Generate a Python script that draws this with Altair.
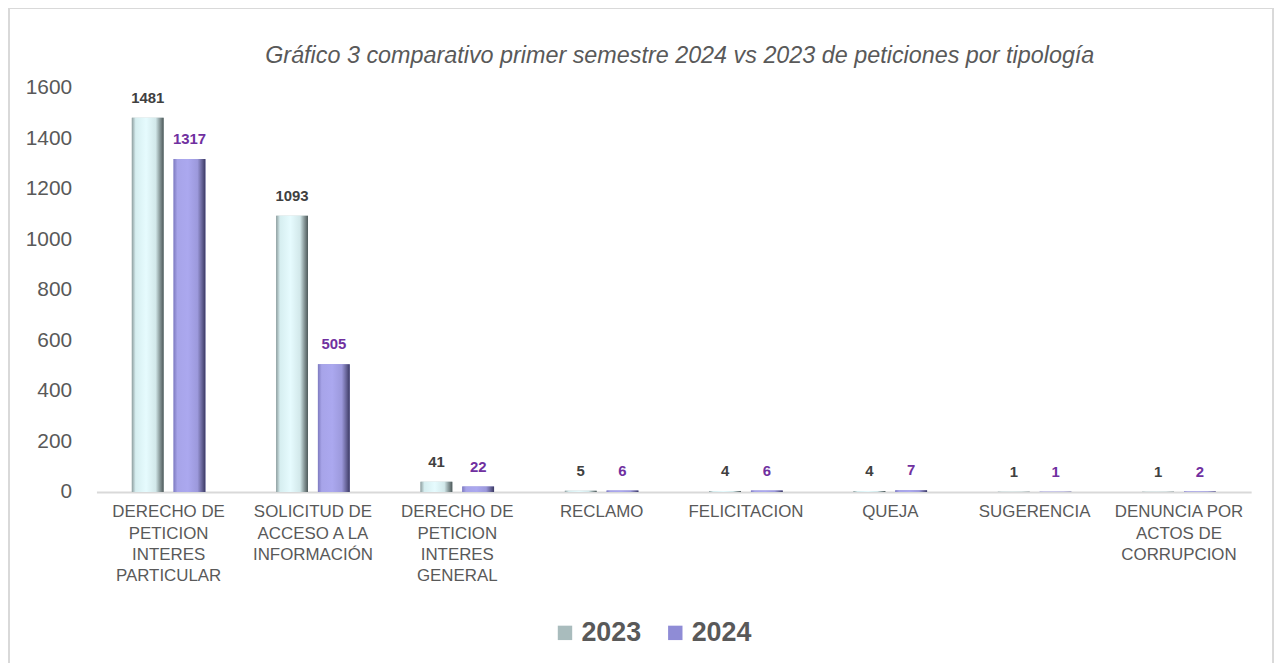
import altair as alt
import pandas as pd

categories = [
    "DERECHO DE PETICION INTERES PARTICULAR",
    "SOLICITUD DE ACCESO A LA INFORMACIÓN",
    "DERECHO DE PETICION INTERES GENERAL",
    "RECLAMO",
    "FELICITACION",
    "QUEJA",
    "SUGERENCIA",
    "DENUNCIA POR ACTOS DE CORRUPCION",
]
label_lines = [
    ["DERECHO DE", "PETICION", "INTERES", "PARTICULAR"],
    ["SOLICITUD DE", "ACCESO A LA", "INFORMACIÓN"],
    ["DERECHO DE", "PETICION", "INTERES", "GENERAL"],
    ["RECLAMO"],
    ["FELICITACION"],
    ["QUEJA"],
    ["SUGERENCIA"],
    ["DENUNCIA POR", "ACTOS DE", "CORRUPCION"],
]
years = ["2023", "2024"]
values_2023 = [1481, 1093, 41, 5, 4, 4, 1, 1]
values_2024 = [1317, 505, 22, 6, 6, 7, 1, 2]
title_text = "Gráfico 3 comparativo primer semestre 2024 vs 2023 de peticiones por tipología"

rows = []
for i, c in enumerate(categories):
    rows.append({"cat": c, "year": "2023", "value": values_2023[i]})
    rows.append({"cat": c, "year": "2024", "value": values_2024[i]})
df = pd.DataFrame(rows)

W, H = 1162, 407

label_expr = "{" + ",".join(
    '"%s":[%s]' % (c, ",".join('"%s"' % s for s in ls)) for c, ls in zip(categories, label_lines)
) + "}[datum.value]"

x_enc = alt.X(
    "cat:N",
    sort=categories,
    scale=alt.Scale(paddingInner=0, paddingOuter=0),
    axis=alt.Axis(
        title=None,
        labelAngle=0,
        labelExpr=label_expr,
        labelFont="Liberation Sans",
        labelFontSize=17,
        labelColor="#595959",
        labelLineHeight=21.5,
        labelPadding=12,
        ticks=False,
        domainColor="#d9d9d9",
        domainWidth=2,
        labelLimit=200,
    ),
)
xoff = alt.XOffset(
    "year:N",
    scale=alt.Scale(domain=years, paddingInner=0.238, paddingOuter=0.848),
)
y_enc = alt.Y(
    "value:Q",
    scale=alt.Scale(domain=[0, 1600], nice=False),
    axis=alt.Axis(
        title=None,
        values=[0, 200, 400, 600, 800, 1000, 1200, 1400, 1600],
        format="d",
        grid=False,
        domain=False,
        ticks=False,
        labelFont="Liberation Sans",
        labelFontSize=21,
        labelColor="#595959",
        labelPadding=25,
    ),
)

base = alt.Chart(df)

legend_bars = base.mark_bar().encode(
    x=x_enc,
    xOffset=xoff,
    y=y_enc,
    color=alt.Color(
        "year:N",
        scale=alt.Scale(domain=years, range=["#a9bcbd", "#8f8cd6"]),
        legend=alt.Legend(
            title=None,
            orient="none",
            legendX=458,
            legendY=535,
            direction="horizontal",
            symbolType="square",
            symbolSize=210,
            symbolStrokeWidth=0,
            labelFont="Liberation Sans",
            labelFontSize=27,
            labelFontWeight="bold",
            labelColor="#595959",
            columnPadding=20,
            labelOffset=3,
        ),
    ),
)

grad_2023 = alt.Gradient(
    gradient="linear",
    stops=[
        alt.GradientStop(color="#8e9e9f", offset=0),
        alt.GradientStop(color="#d6eef0", offset=0.12),
        alt.GradientStop(color="#e6fbfe", offset=0.45),
        alt.GradientStop(color="#d2e8ea", offset=0.75),
        alt.GradientStop(color="#8a9a9b", offset=0.88),
        alt.GradientStop(color="#4d5859", offset=1),
    ],
    x1=0, x2=1, y1=0, y2=0,
)
grad_2024 = alt.Gradient(
    gradient="linear",
    stops=[
        alt.GradientStop(color="#7e7bc0", offset=0),
        alt.GradientStop(color="#a7a4e9", offset=0.12),
        alt.GradientStop(color="#aba8ef", offset=0.45),
        alt.GradientStop(color="#9c99dc", offset=0.75),
        alt.GradientStop(color="#6c699e", offset=0.88),
        alt.GradientStop(color="#3b3963", offset=1),
    ],
    x1=0, x2=1, y1=0, y2=0,
)

bars_2023 = base.transform_filter(alt.datum.year == "2023").mark_bar(color=grad_2023).encode(
    x=alt.X("cat:N", sort=categories), xOffset=xoff, y=alt.Y("value:Q")
)
bars_2024 = base.transform_filter(alt.datum.year == "2024").mark_bar(color=grad_2024).encode(
    x=alt.X("cat:N", sort=categories), xOffset=xoff, y=alt.Y("value:Q")
)

labels = base.mark_text(
    baseline="bottom",
    dy=-12,
    font="'Liberation Sans Narrow', 'Arial Narrow', 'Liberation Sans', sans-serif",
    fontSize=15,
    fontWeight="bold",
).encode(
    x=alt.X("cat:N", sort=categories),
    xOffset=xoff,
    y=alt.Y("value:Q"),
    text=alt.Text("value:Q"),
    color=alt.Color(
        "year:N",
        scale=alt.Scale(domain=years, range=["#404040", "#7030a0"]),
        legend=None,
    ),
)

deco = pd.DataFrame({"t": [title_text]})

border = alt.Chart(deco).mark_rect(
    fill=None, stroke="#d9d9d9", strokeWidth=2, clip=False
).encode(
    x=alt.value(-88),
    x2=alt.value(1184),
    y=alt.value(-80),
    y2=alt.value(600),
)

title = alt.Chart(deco).mark_text(
    font="Liberation Sans",
    fontSize=23.5,
    fontStyle="italic",
    color="#595959",
    align="center",
    baseline="middle",
).encode(
    x=alt.value(W / 2 + 6),
    y=alt.value(-32),
    text="t:N",
)

chart = (
    alt.layer(border, title, legend_bars, bars_2023, bars_2024, labels)
    .resolve_scale(color="independent")
    .properties(
        width=W,
        height=H,
        autosize=alt.AutoSizeParams(type="none"),
        padding={"left": 89, "top": 78, "right": 26, "bottom": 170},
    )
    .configure_view(stroke=None)
)

chart.save("out.html", embed_options={"renderer": "svg", "actions": False})
